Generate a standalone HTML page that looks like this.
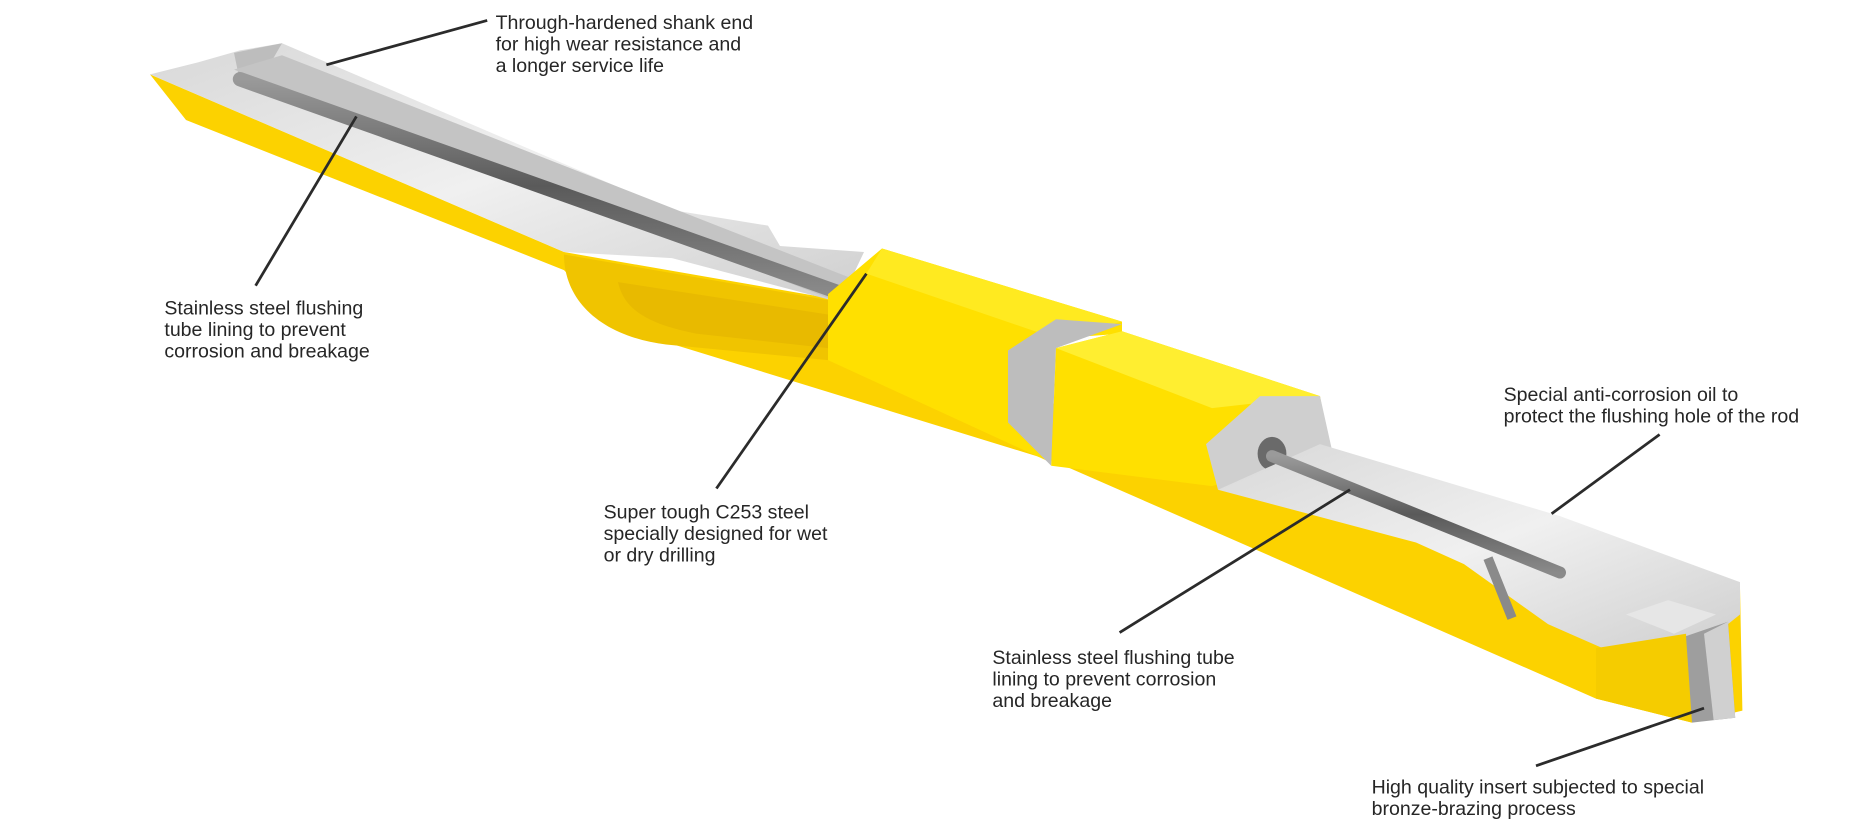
<!DOCTYPE html>
<html><head><meta charset="utf-8"><style>
html,body{margin:0;padding:0;background:#fff;width:1872px;height:821px;overflow:hidden}
svg{display:block}
text{font-family:"Liberation Sans",sans-serif;font-size:16.3px;fill:#262626}
</style></head><body>
<svg width="1872" height="821" viewBox="0 0 1560 684" preserveAspectRatio="none">
<defs>
<linearGradient id="g" x1="0" y1="0" x2="1" y2="1"><stop offset="0" stop-color="#d8d8d8"/><stop offset=".5" stop-color="#f0f0f0"/><stop offset="1" stop-color="#cfcfcf"/></linearGradient>
<linearGradient id="t" x1="0" y1="0" x2="0" y2="1"><stop offset="0" stop-color="#9a9a9a"/><stop offset=".5" stop-color="#5a5a5a"/><stop offset="1" stop-color="#8a8a8a"/></linearGradient>
</defs>
<polygon fill="#fcd200" points="125,62 470,210 700,250 1010,400 1100,370 1450,490 1452,592 1410,602 1330,582 880,385 555,285 495,250 470,225 155,100"/>
<path fill="#f0c400" d="M470,212 C470,250 500,280 555,287 L690,300 L690,250 Z"/>
<path fill="#e2b400" d="M515,235 C520,258 540,270 580,278 L690,290 L690,262 Z" opacity=".6"/>
<polygon fill="url(#g)" points="125,62 165,52 200,42 235,36 560,175 640,188 650,205 720,210 700,252 560,215 470,210"/>
<polygon fill="#bdbdbd" points="195,44 235,36 220,62 200,68"/>
<polygon fill="#c4c4c4" points="195,58 235,46 710,232 700,252"/>
<line x1="200" y1="66" x2="700" y2="244" stroke="url(#t)" stroke-width="12" stroke-linecap="round"/>
<polygon fill="#ffe000" points="735,207 935,268 935,278 880,282 840,292 840,350 875,385 690,300 690,245"/>
<polygon fill="#ffea20" points="735,207 935,268 880,282 722,228"/>
<polygon fill="#bdbdbd" points="840,292 880,266 935,270 880,290 876,388 840,352"/>
<polygon fill="#ffe000" points="880,290 935,276 1100,330 1108,375 1010,405 876,388"/>
<polygon fill="#ffee30" points="880,290 935,276 1100,330 1010,340"/>
<polygon fill="#cfcfcf" points="1005,370 1050,330 1100,330 1110,375 1015,408"/>
<ellipse cx="1060" cy="378" rx="12" ry="14" fill="#6a6a6a"/>
<polygon fill="url(#g)" points="1100,370 1300,430 1450,485 1450,512 1430,528 1340,542 1290,520 1220,470 1180,452 1015,408"/>
<polygon fill="#e6e6e6" points="1355,512 1390,500 1430,512 1395,528"/>
<line x1="1060" y1="380" x2="1300" y2="477" stroke="url(#t)" stroke-width="10" stroke-linecap="round"/>
<line x1="1240" y1="465" x2="1260" y2="515" stroke="#8a8a8a" stroke-width="8"/>
<polygon fill="#f5cc00" points="1330,540 1405,528 1410,602 1330,582"/>
<polygon fill="#9e9e9e" points="1405,530 1440,518 1446,598 1410,602"/>
<polygon fill="#d0d0d0" points="1420,528 1440,518 1446,598 1428,600"/>
<g stroke="#2b2b2b" stroke-width="2.3" fill="none">
<line x1="406" y1="17" x2="272" y2="54"/>
<line x1="213" y1="238" x2="297" y2="97"/>
<line x1="597" y1="407" x2="722" y2="228"/>
<line x1="1383" y1="362" x2="1293" y2="428"/>
<line x1="933" y1="527" x2="1125" y2="408"/>
<line x1="1280" y1="638" x2="1420" y2="590"/>
</g>
<text x="413" y="24">Through-hardened shank end</text>
<text x="413" y="42">for high wear resistance and</text>
<text x="413" y="60">a longer service life</text>
<text x="137" y="262">Stainless steel flushing</text>
<text x="137" y="280">tube lining to prevent</text>
<text x="137" y="298">corrosion and breakage</text>
<text x="503" y="432">Super tough C253 steel</text>
<text x="503" y="450">specially designed for wet</text>
<text x="503" y="468">or dry drilling</text>
<text x="1253" y="334">Special anti-corrosion oil to</text>
<text x="1253" y="352">protect the flushing hole of the rod</text>
<text x="827" y="553">Stainless steel flushing tube</text>
<text x="827" y="571">lining to prevent corrosion</text>
<text x="827" y="589">and breakage</text>
<text x="1143" y="661">High quality insert subjected to special</text>
<text x="1143" y="679">bronze-brazing process</text>
</svg>
</body></html>
